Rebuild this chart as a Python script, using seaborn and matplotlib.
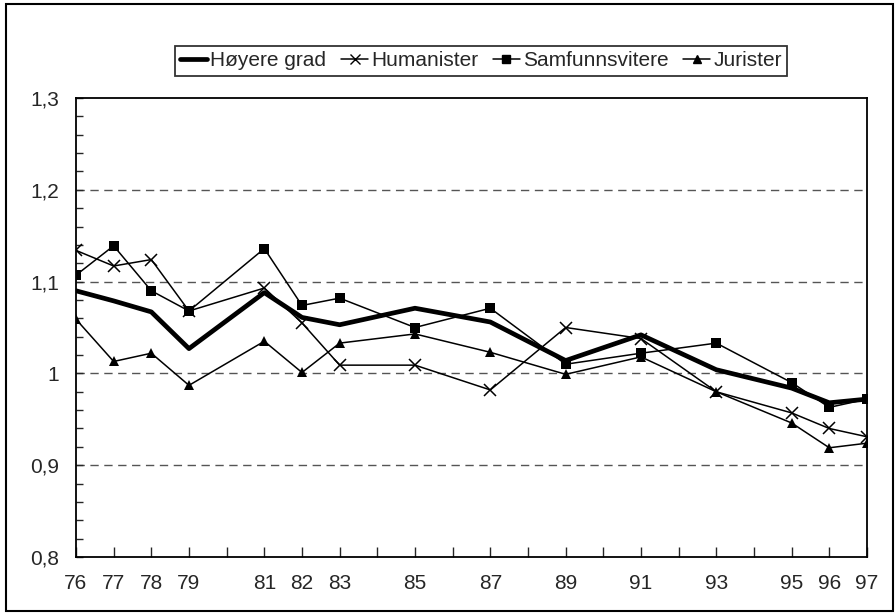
import numpy as np
import pandas as pd
import seaborn as sns
import matplotlib
matplotlib.use("Agg")
import matplotlib.pyplot as plt
from matplotlib.lines import Line2D
from matplotlib.patches import Rectangle
from matplotlib.ticker import MultipleLocator, FixedLocator

years = [76, 77, 78, 79, 81, 82, 83, 85, 87, 89, 91, 93, 95, 96, 97]
hoyere_grad = [1.090, 1.079, 1.067, 1.027, 1.088, 1.061, 1.053, 1.071, 1.056, 1.014, 1.042, 1.004, 0.984, 0.968, 0.972]
humanister = [1.134, 1.117, 1.124, 1.068, 1.093, 1.055, 1.009, 1.009, 0.982, 1.050, 1.038, 0.980, 0.957, 0.940, 0.931]
samfunnsvitere = [1.107, 1.139, 1.090, 1.068, 1.136, 1.074, 1.082, 1.050, 1.071, 1.010, 1.022, 1.033, 0.990, 0.963, 0.972]
jurister = [1.059, 1.013, 1.022, 0.987, 1.035, 1.001, 1.033, 1.043, 1.023, 0.999, 1.018, 0.980, 0.946, 0.919, 0.924]

series = ["Høyere grad", "Humanister", "Samfunnsvitere", "Jurister"]
y_ticks = [0.8, 0.9, 1.0, 1.1, 1.2, 1.3]
y_labels = ["0,8", "0,9", "1", "1,1", "1,2", "1,3"]

df = pd.DataFrame({"year": years * 4,
                   "value": hoyere_grad + humanister + samfunnsvitere + jurister,
                   "serie": sum([[s] * len(years) for s in series], [])})

sns.set_style("white")
plt.rcParams['font.family'] = ['Liberation Sans', 'DejaVu Sans']

fig = plt.figure(figsize=(8.96, 6.14), dpi=100)
ax = fig.add_axes([0.0848, 0.0928, 0.8828, 0.7476])

# dashed grid at major y
for v in [0.9, 1.0, 1.1, 1.2]:
    ax.axhline(v, color="#555555", lw=1.0, ls=(0, (6, 4)), zorder=0)

styles = {
    "Høyere grad": dict(lw=3.4, marker=None),
    "Humanister": dict(lw=1.1, marker="x", markersize=8, markeredgewidth=1.1),
    "Samfunnsvitere": dict(lw=1.1, marker="s", markersize=7),
    "Jurister": dict(lw=1.1, marker="^", markersize=7),
}
for s in ["Humanister", "Samfunnsvitere", "Jurister", "Høyere grad"]:
    sub = df[df["serie"] == s]
    st = styles[s]
    sns.lineplot(data=sub, x="year", y="value", ax=ax, color="black",
                 linewidth=st["lw"], marker=st["marker"],
                 markersize=st.get("markersize", 0),
                 markeredgewidth=st.get("markeredgewidth", 0),
                 markeredgecolor="black", legend=False, zorder=3)

ax.set_xlim(76, 97)
ax.set_ylim(0.8, 1.3)
ax.set_xlabel("")
ax.set_ylabel("")

all_years = list(range(76, 98))
ax.xaxis.set_major_locator(FixedLocator(all_years))
ax.set_xticklabels([str(y) if y in years else "" for y in all_years])
ax.yaxis.set_major_locator(FixedLocator(y_ticks))
ax.set_yticklabels(y_labels)
ax.yaxis.set_minor_locator(MultipleLocator(0.02))

ax.tick_params(axis="x", direction="in", length=7, width=1, pad=12, labelsize=15, bottom=True)
ax.tick_params(axis="y", which="both", direction="in", length=5, width=1, pad=12, labelsize=15, left=True)
for sp in ax.spines.values():
    sp.set_color("black")
    sp.set_linewidth(1.3)

handles = [
    Line2D([], [], color="black", lw=3.4),
    Line2D([], [], color="black", lw=1.1, marker="x", markersize=7),
    Line2D([], [], color="black", lw=1.1, marker="s", markersize=6),
    Line2D([], [], color="black", lw=1.1, marker="^", markersize=6),
]
leg = fig.legend(handles, series, loc="center", bbox_to_anchor=(0.537, 0.9007), ncol=4,
                 fontsize=15, frameon=True, fancybox=False, handlelength=1.3,
                 handletextpad=0.15, columnspacing=0.7, borderpad=0.25)
leg.get_frame().set_edgecolor("black")
leg.get_frame().set_linewidth(1.3)

fig.patches.append(Rectangle((6 / 896, 3 / 614), 887 / 896, 607 / 614, transform=fig.transFigure,
                             fill=False, edgecolor="black", lw=1.5))

fig.savefig("out.png", dpi=100)
